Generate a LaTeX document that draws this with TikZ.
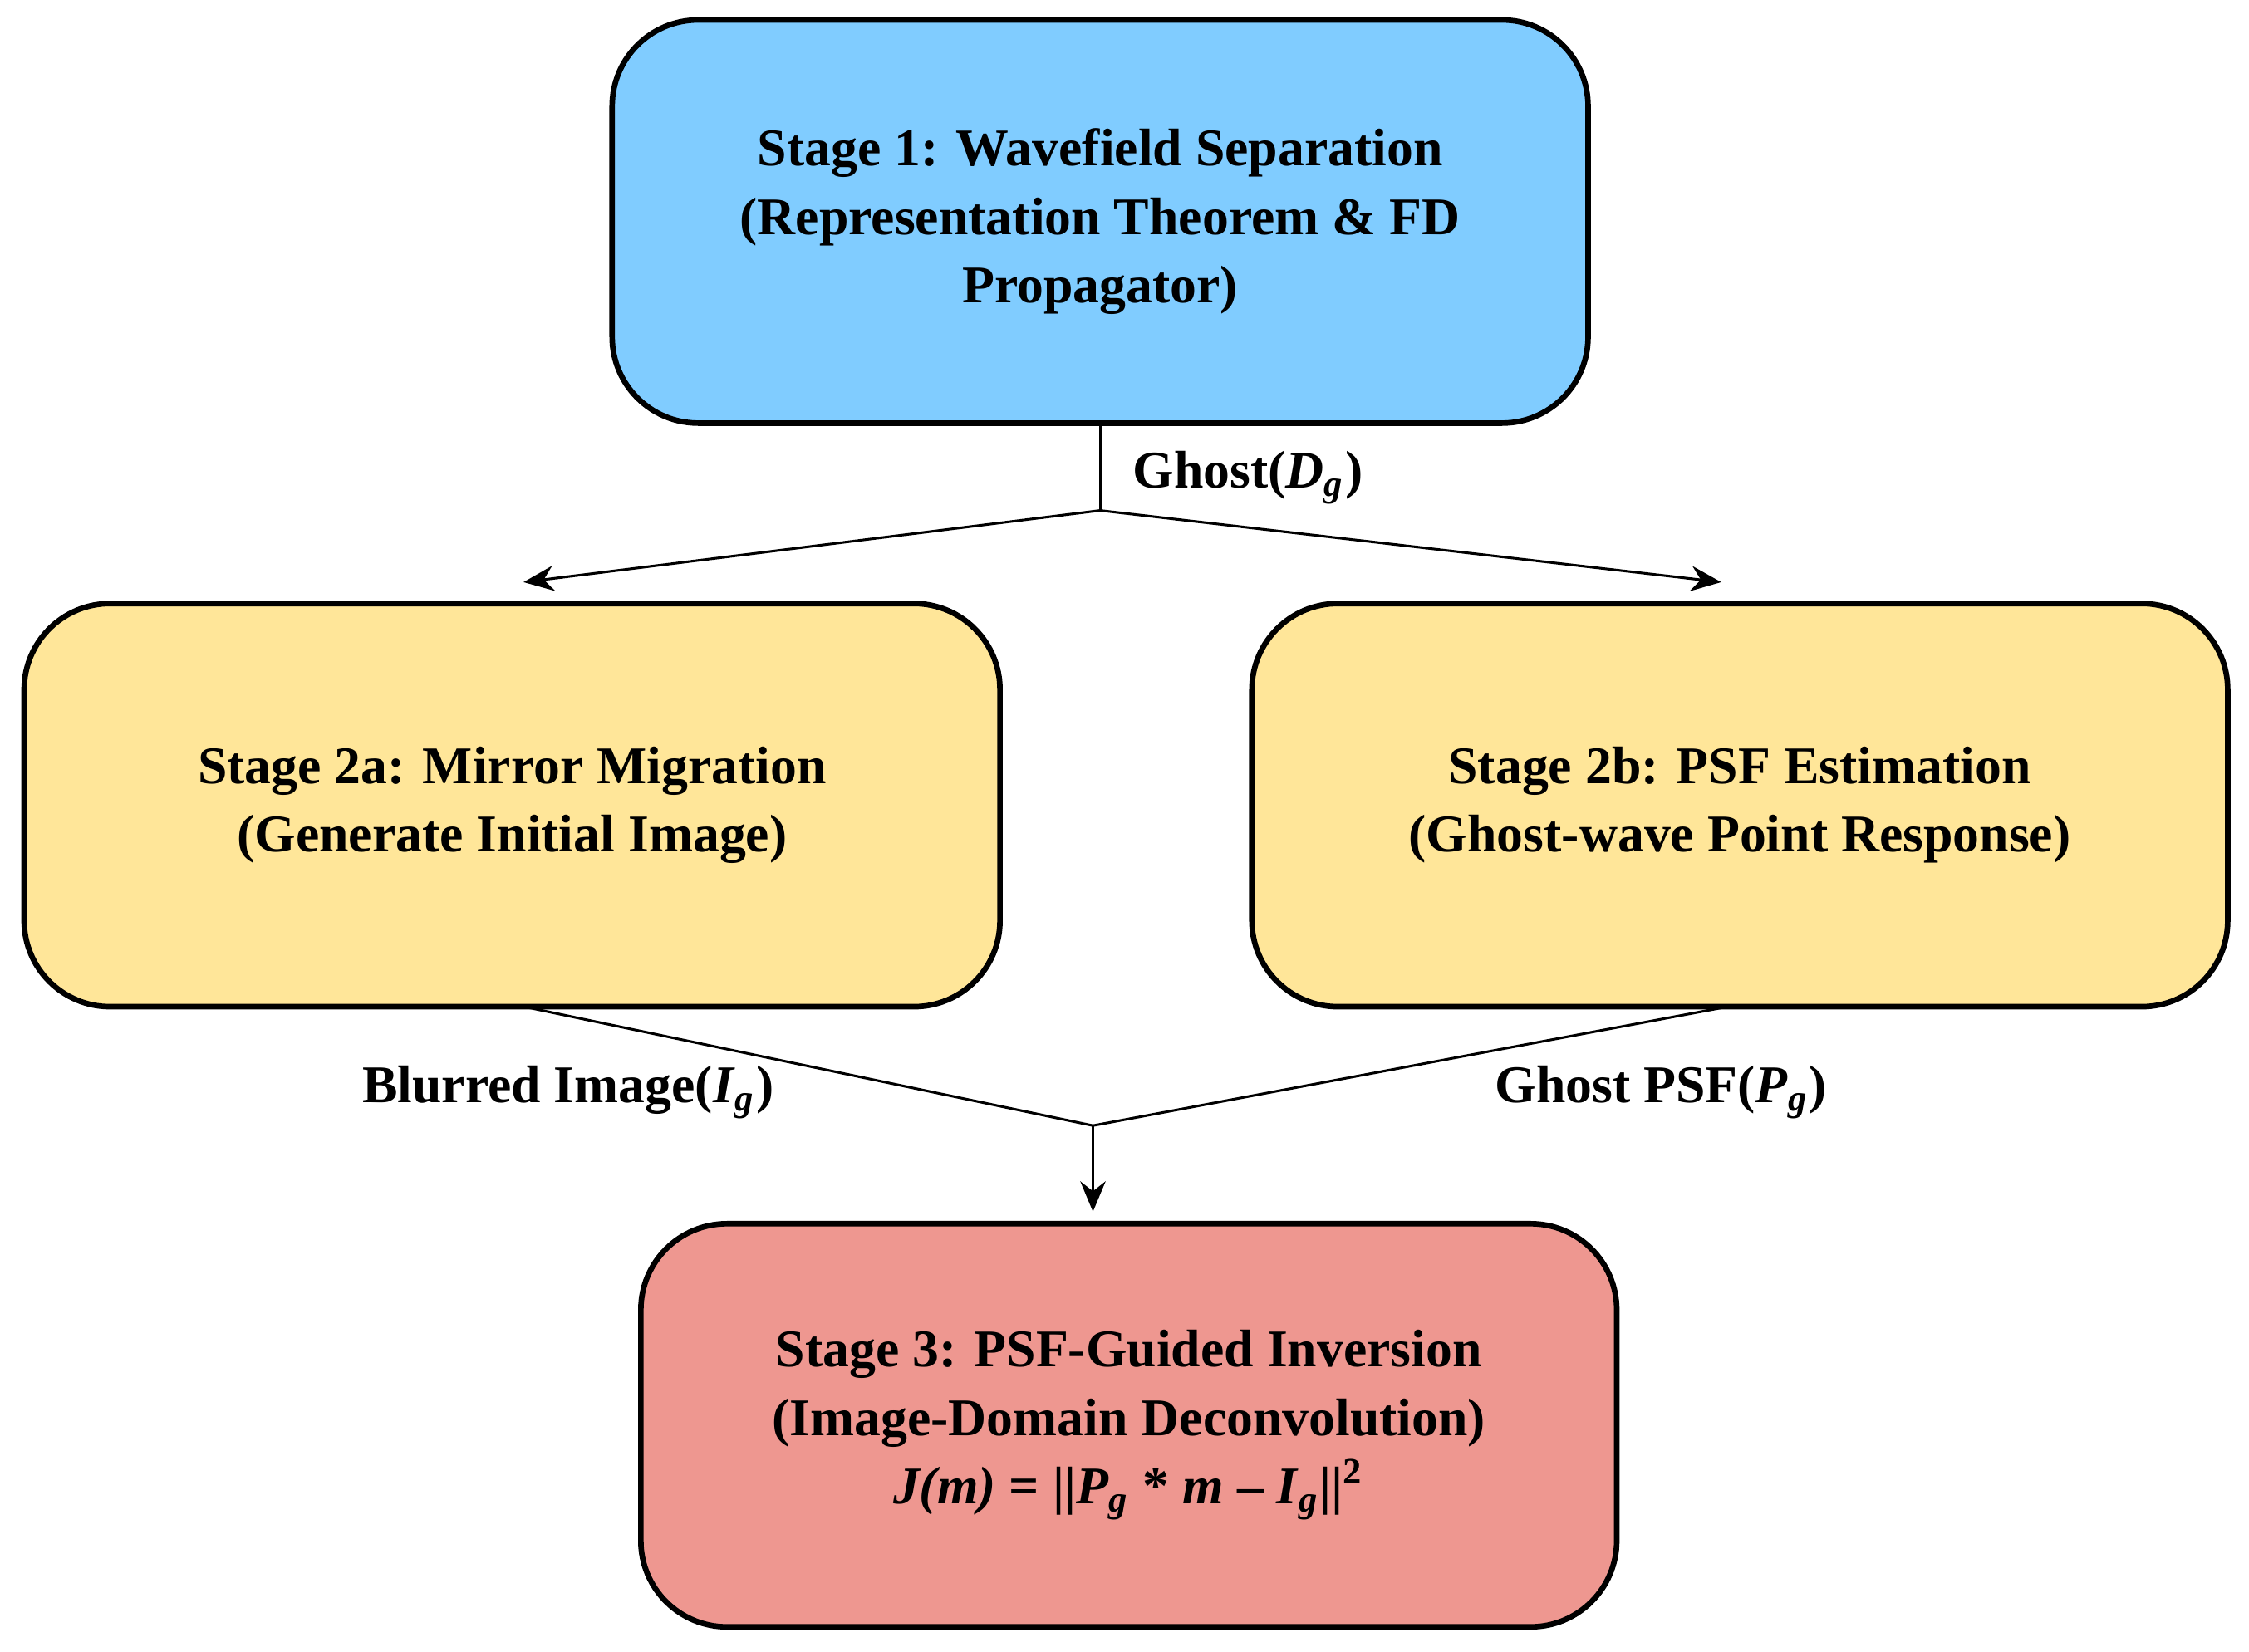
\documentclass[tikz,border=0pt]{standalone}
\usepackage{fontspec}
\setmainfont{Liberation Serif}
\usetikzlibrary{arrows.meta}
\definecolor{cblue}{HTML}{80CCFF}
\definecolor{cyel}{HTML}{FFE699}
\definecolor{cred}{HTML}{EE9790}
\begin{document}
\begin{tikzpicture}[x=0.01cm,y=-0.01cm,
 box/.style={draw=black,line width=1.1pt,rounded corners=0.6cm,minimum width=6.8cm,minimum height=2.81cm,align=center,font=\fontsize{10.5}{13.6}\selectfont\bfseries},
 lab/.style={font=\fontsize{10.5}{13.6}\selectfont\bfseries,inner sep=1pt},
 arr/.style={-{Stealth[length=6pt,width=5pt]},line width=0.5pt},
 ln/.style={line width=0.5pt}]
\useasboundingbox (0,0) rectangle (1568,1152);
\node[box,fill=cblue] (s1) at (767,154.5) {Stage 1: Wavefield Separation\\(Representation Theorem \& FD\\Propagator)};
\node[box,fill=cyel] (s2a) at (357,561.5) {Stage 2a: Mirror Migration\\(Generate Initial Image)};
\node[box,fill=cyel] (s2b) at (1213,561.5) {Stage 2b: PSF Estimation\\(Ghost-wave Point Response)};
\node[box,fill=cred] (s3) at (787,994) {Stage 3: PSF-Guided Inversion\\(Image-Domain Deconvolution)\\\textit{J(m)} = ||\textit{P}\textsubscript{\textit{g}} * \textit{m} -- \textit{I}\textsubscript{\textit{g}}||\textsuperscript{2}};
\coordinate (j1) at (767,356);
\coordinate (t2a) at (365,406);
\coordinate (t2b) at (1200,406);
\coordinate (j2) at (762,785);
\coordinate (b2a) at (365,702);
\coordinate (b2b) at (1205,702);
\coordinate (t3) at (762,845);
\draw[ln] (s1.south) -- (j1);
\draw[arr] (j1) -- (t2a);
\draw[arr] (j1) -- (t2b);
\draw[ln] (b2a) -- (j2) -- (b2b);
\draw[arr] (j2) -- (t3);
\node[lab] (l1) at (870,333) {Ghost(\textit{D}\textsubscript{\textit{g}})};
\node[lab] (l2) at (396,762) {Blurred Image(\textit{I}\textsubscript{\textit{g}})};
\node[lab] (l3) at (1158,762) {Ghost PSF(\textit{P}\textsubscript{\textit{g}})};
\end{tikzpicture}
\end{document}
